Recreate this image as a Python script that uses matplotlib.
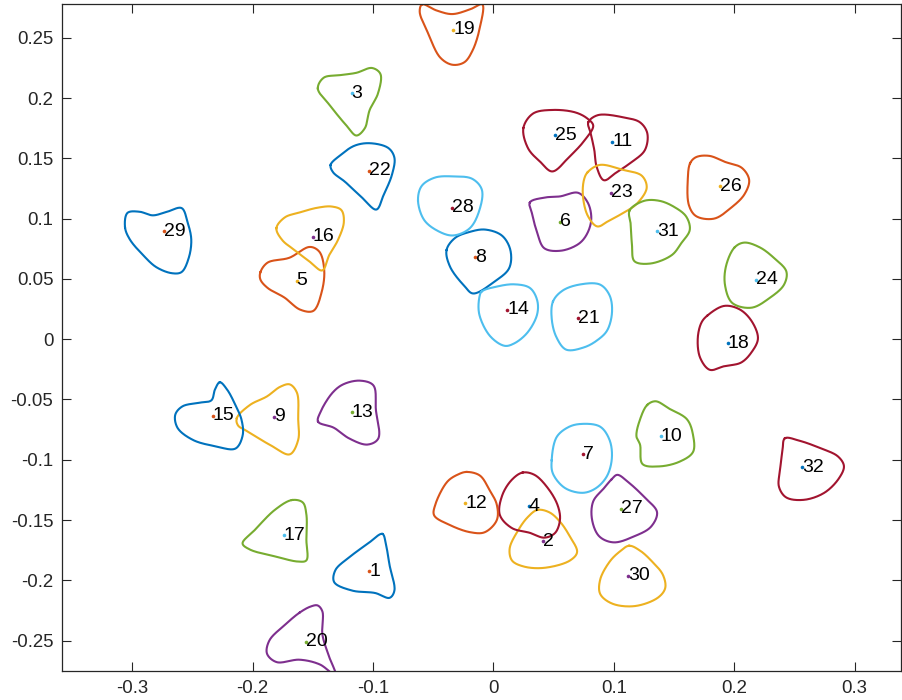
import numpy as np
import matplotlib
matplotlib.use("Agg")
import matplotlib.pyplot as plt
from cycler import cycler

# ---- data -------------------------------------------------------------
labels = list(range(1, 33))
center_x = [-0.1032, 0.0415, -0.1178, 0.0293, -0.1635, 0.0553, 0.0744, -0.0149,
            -0.1821, 0.1388, 0.0988, -0.0232, -0.1176, 0.0113, -0.2332, -0.1502,
            -0.1743, 0.1947, -0.0332, -0.1560, 0.0705, -0.1032, 0.0973, 0.2183,
            0.0509, 0.1884, 0.1059, -0.0346, -0.2739, 0.1117, 0.1361, 0.2561]
center_y = [-0.1925, -0.1676, 0.2039, -0.1386, 0.0485, 0.0974, -0.0954, 0.0679,
            -0.0645, -0.0805, 0.1638, -0.1361, -0.0604, 0.0245, -0.0637, 0.0850,
            -0.1624, -0.0034, 0.2566, -0.2508, 0.0173, 0.1395, 0.1215, 0.0491,
            0.1691, 0.1270, -0.1405, 0.1090, 0.0897, -0.1963, 0.0897, -0.1062]

# outline vertices of each region, offsets from its centre in units of 1e-3
shape_dx = [
    [11, 14, 17, 21, 17, 5, -14, -29, -28, -16, -1],
    [-5, 5, 14, 22, 28, 22, 1, -16, -26, -28, -21, -13],
    [-28, -23, -10, 4, 17, 24, 22, 15, 11, 4, -4, -18],
    [-5, 5, 16, 24, 26, 22, 13, 1, -14, -24, -22, -14],
    [-30, -24, -6, 11, 19, 23, 21, 14, 3, -10, -24, -30],
    [-25, -13, 0, 15, 23, 26, 23, 16, 1, -13, -19, -23],
    [-26, -22, -13, -3, 14, 22, 24, 20, 11, 0, -15, -25],
    [-24, -17, -5, 8, 22, 29, 28, 16, -2, -9, -21],
    [-31, -20, -6, 5, 13, 19, 20, 20, 13, -2, -22, -30],
    [-11, -4, 7, 22, 27, 27, 16, -1, -15, -17, -20, -17],
    [-20, -12, 10, 23, 29, 27, 16, 4, -7, -13, -15, -18],
    [1, 12, 20, 26, 26, 16, 4, -13, -26, -25, -15, -6],
    [-28, -26, -16, -7, 7, 18, 20, 22, 13, -2, -15],
    [-21, -9, 6, 19, 25, 25, 17, 6, -2, -14, -23, -23],
    [6, 12, 19, 24, 25, 19, 2, -16, -29, -31, -25, -11, -1, 2],
    [-30, -23, -11, 4, 16, 24, 26, 21, 14, 8, -2, -15, -25],
    [7, 16, 19, 19, 19, 12, -6, -28, -34, -24, -7],
    [-17, -3, 10, 20, 25, 20, 11, -3, -15, -23, -25, -22],
    [-26, -14, -1, 14, 24, 22, 16, 9, -1, -11, -21, -28],
    [-5, 4, 10, 14, 14, 19, 25, 12, -5, -24, -32, -30, -17],
    [-21, -13, 1, 18, 26, 28, 24, 16, 5, -10, -18, -22],
    [-32, -24, -12, 1, 16, 21, 19, 12, 6, -6, -20, -30],
    [-19, -9, 10, 26, 30, 22, 12, -1, -11, -19, -23, -22],
    [-18, -10, 3, 15, 25, 23, 11, -4, -20, -26, -25],
    [-26, -18, -2, 17, 27, 32, 25, 12, -2, -12, -22],
    [-25, -20, -9, 4, 18, 24, 20, 9, -5, -20, -26, -27],
    [-8, -3, 6, 20, 30, 25, 11, -6, -18, -24, -23, -14],
    [-28, -25, -14, 1, 17, 25, 23, 15, 1, -12, -23],
    [-32, -30, -20, -9, 3, 15, 20, 23, 21, 15, 7, -6, -17, -28],
    [1, 10, 20, 29, 31, 25, 6, -13, -23, -23, -15, -7],
    [-23, -11, 2, 14, 24, 27, 20, 12, -6, -19, -21, -22],
    [-14, -2, 15, 30, 35, 31, 19, 2, -13, -19, -18, -16],
]
shape_dy = [
    [31, 22, 5, -16, -22, -18, -16, -9, 1, 12, 23],
    [26, 24, 16, 4, -9, -16, -22, -21, -16, -6, 9, 20],
    [4, 13, 15, 17, 21, 16, 0, -14, -29, -35, -27, -10],
    [28, 26, 15, 1, -11, -22, -26, -22, -18, -7, 9, 22],
    [7, 15, 19, 28, 24, 9, -9, -25, -24, -14, -6, 1],
    [16, 20, 21, 24, 16, 3, -9, -18, -24, -22, -9, 6],
    [-5, 14, 22, 25, 23, 12, -3, -18, -28, -32, -28, -16],
    [6, 16, 21, 23, 18, 6, -9, -20, -30, -24, -8],
    [-1, 10, 17, 25, 27, 20, -2, -19, -31, -24, -12, -7],
    [26, 29, 23, 14, 1, -13, -21, -25, -23, -7, 0, 14],
    [16, 22, 20, 16, 7, -7, -17, -25, -32, -21, -7, 7],
    [26, 23, 11, -1, -14, -24, -24, -18, -10, -1, 18, 24],
    [-8, 0, 16, 23, 26, 22, 2, -22, -27, -22, -13],
    [15, 19, 21, 18, 8, -4, -19, -28, -30, -22, -4, 10],
    [28, 22, 9, -3, -16, -27, -25, -20, -10, 1, 8, 11, 13, 22],
    [7, 16, 20, 24, 25, 22, 12, -3, -15, -28, -21, -11, -3],
    [29, 27, 17, -4, -21, -22, -18, -12, -7, 4, 21],
    [23, 31, 28, 18, 4, -7, -16, -19, -22, -12, 4, 17],
    [21, 16, 13, 17, 21, 2, -17, -27, -29, -23, -3, 15],
    [24, 29, 30, 25, 6, -11, -28, -19, -15, -17, -10, 1, 14],
    [14, 23, 28, 28, 19, 5, -10, -18, -24, -26, -16, -1],
    [5, 13, 21, 23, 19, 11, -3, -20, -32, -22, -9, -1],
    [17, 23, 19, 14, 4, -9, -16, -23, -28, -19, -2, 11],
    [27, 31, 27, 18, 7, -4, -15, -23, -19, -4, 12],
    [6, 18, 21, 19, 14, 8, -4, -18, -30, -22, -11],
    [19, 24, 25, 20, 15, 5, -7, -18, -27, -25, -16, 5],
    [24, 28, 22, 9, -3, -15, -23, -28, -23, -9, 6, 17],
    [6, 18, 25, 26, 24, 15, -2, -17, -23, -19, -10],
    [3, 15, 16, 13, 16, 19, 7, -7, -22, -34, -35, -30, -20, -7],
    [25, 21, 12, 1, -10, -18, -25, -23, -15, -3, 12, 20],
    [17, 25, 25, 20, 12, 1, -10, -20, -27, -25, -12, 5],
    [24, 22, 16, 9, 1, -9, -21, -27, -25, -16, -2, 14],
]

x_ticks = [-0.3, -0.2, -0.1, 0, 0.1, 0.2, 0.3]
x_ticklabels = ["-0.3", "-0.2", "-0.1", "0", "0.1", "0.2", "0.3"]
y_ticks = [-0.25, -0.2, -0.15, -0.1, -0.05, 0, 0.05, 0.1, 0.15, 0.2, 0.25]
y_ticklabels = ["-0.25", "-0.2", "-0.15", "-0.1", "-0.05", "0", "0.05", "0.1", "0.15", "0.2", "0.25"]

matlab_colors = ["#0072BD", "#D95319", "#EDB120", "#7E2F8E", "#77AC30", "#4DBEEE", "#A2142F"]


def smooth_closed(px, py, n=24):
    """Centripetal Catmull-Rom spline through closed vertex list."""
    P = np.column_stack([px, py])
    N = len(P)
    segs = []
    for i in range(N):
        p0, p1, p2, p3 = P[(i - 1) % N], P[i], P[(i + 1) % N], P[(i + 2) % N]
        t0 = 0.0
        t1 = t0 + np.linalg.norm(p1 - p0) ** 0.5
        t2 = t1 + np.linalg.norm(p2 - p1) ** 0.5
        t3 = t2 + np.linalg.norm(p3 - p2) ** 0.5
        t = np.linspace(t1, t2, n, endpoint=False)[:, None]
        A1 = (t1 - t) / (t1 - t0) * p0 + (t - t0) / (t1 - t0) * p1
        A2 = (t2 - t) / (t2 - t1) * p1 + (t - t1) / (t2 - t1) * p2
        A3 = (t3 - t) / (t3 - t2) * p2 + (t - t2) / (t3 - t2) * p3
        B1 = (t2 - t) / (t2 - t0) * A1 + (t - t0) / (t2 - t0) * A2
        B2 = (t3 - t) / (t3 - t1) * A2 + (t - t1) / (t3 - t1) * A3
        C = (t2 - t) / (t2 - t1) * B1 + (t - t1) / (t2 - t1) * B2
        segs.append(C)
    C = np.vstack(segs + [segs[0][:1]])
    return C[:, 0], C[:, 1]


plt.rcParams["font.family"] = ["Liberation Sans", "DejaVu Sans"]
plt.rcParams["axes.unicode_minus"] = False
plt.rcParams["axes.prop_cycle"] = cycler(color=matlab_colors)

fig = plt.figure(figsize=(9.02, 7.0), dpi=100)
ax = fig.add_axes([0.0684, 0.0419, 0.9305, 0.9528])

for k, lab in enumerate(labels):
    xs = center_x[k] + np.array(shape_dx[k]) / 1000.0
    ys = center_y[k] + np.array(shape_dy[k]) / 1000.0
    sx, sy = smooth_closed(xs, ys)
    ax.plot(sx, sy, lw=1.5)
    ax.plot([center_x[k]], [center_y[k]], marker="o", ms=2.6, mew=0, ls="none")
    ax.text(center_x[k], center_y[k], str(lab), ha="left", va="center",
            fontsize=14, color="black")

ax.set_xlim(-0.3585, 0.3385)
ax.set_ylim(-0.2749, 0.2782)
ax.set_xticks(x_ticks)
ax.set_xticklabels(x_ticklabels)
ax.set_yticks(y_ticks)
ax.set_yticklabels(y_ticklabels)
ax.tick_params(direction="in", length=6.3, width=0.8, color="#262626",
               labelcolor="#262626", labelsize=13.4, top=True, right=True)
ax.tick_params(axis="y", pad=6)
ax.tick_params(axis="x", pad=6.5)
for s in ax.spines.values():
    s.set_color("#262626")
    s.set_linewidth(0.9)

fig.savefig("out.png", dpi=100)
